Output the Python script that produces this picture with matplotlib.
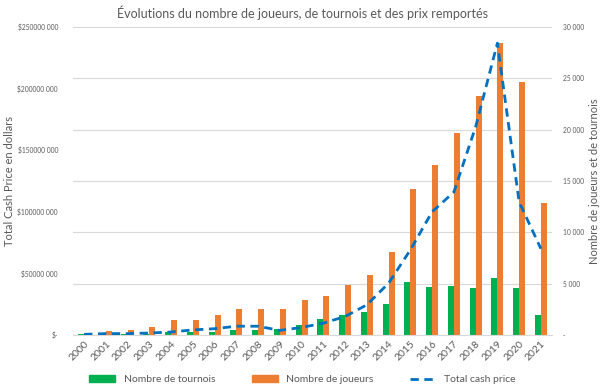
import matplotlib
matplotlib.use("Agg")
import matplotlib.pyplot as plt
from matplotlib.ticker import FuncFormatter
from matplotlib.lines import Line2D
from matplotlib.patches import Patch
import numpy as np

plt.rcParams["font.family"] = ["Lato", "DejaVu Sans"]

years = [str(y) for y in range(2000, 2022)]
tournois = [50, 60, 80, 100, 230, 230, 320, 450, 450, 580, 920,
            1530, 1920, 2240, 3050, 5200, 4700, 4770, 4600, 5500, 4580, 1980]
joueurs = [180, 350, 480, 810, 1400, 1460, 1940, 2500, 2500, 2540, 3400,
           3800, 4840, 5800, 8050, 14250, 16600, 19700, 23300, 28500, 24700, 12900]
cash = [0.4e6, 1.0e6, 1.0e6, 1.5e6, 2.3e6, 4.0e6, 5.0e6, 7.0e6, 7.0e6, 3.6e6, 6.0e6,
        9.5e6, 14.9e6, 24.4e6, 42e6, 69e6, 100e6, 116e6, 169e6, 237e6, 108e6, 70e6]

green = "#00B050"
orange = "#ED7D31"
blue = "#0070C0"
grey = "#595959"

fig = plt.figure(figsize=(6.05, 3.88), dpi=100)
ax = fig.add_axes([0.121, 0.137, 0.791, 0.793])
ax2 = ax.twinx()

x = np.arange(len(years))
w = 0.28
ax2.bar(x - w / 2, tournois, width=w, color=green, zorder=2)
ax2.bar(x + w / 2, joueurs, width=w, color=orange, zorder=2)
ax.plot(x, cash, color=blue, lw=2, ls=(0, (3, 2)), zorder=3)

ax.set_zorder(ax2.get_zorder() + 1)
ax.patch.set_visible(False)

ax.set_xlim(-0.5, len(years) - 0.5)
ax.set_ylim(0, 250e6)
ax2.set_ylim(0, 30000)
ax.set_yticks(np.arange(0, 250e6 + 1, 50e6))
ax2.set_yticks(np.arange(0, 30001, 5000))


def fmt_cash(v, pos):
    if v == 0:
        return "$-"
    s = f"{int(v):d}"
    return "$" + s[:-3] + " " + s[-3:]


def fmt_count(v, pos):
    if v == 0:
        return "-"
    return f"{int(v):,}".replace(",", " ")


ax.yaxis.set_major_formatter(FuncFormatter(fmt_cash))
ax2.yaxis.set_major_formatter(FuncFormatter(fmt_count))

ax.set_xticks(x)
ax.set_xticklabels(years, rotation=45, ha="right", rotation_mode="anchor",
                   fontsize=7.5, color=grey)
ax.tick_params(axis="x", length=0, pad=3)
ax.tick_params(axis="y", length=0, labelsize=4.8, labelcolor=grey, pad=11)
ax2.tick_params(axis="y", length=0, labelsize=4.8, labelcolor=grey, pad=8)

ax2.grid(axis="y", color="#D9D9D9", lw=0.8, zorder=0)
ax2.set_axisbelow(True)
for a in (ax, ax2):
    for s in a.spines.values():
        s.set_visible(False)
ax.spines["bottom"].set_visible(True)
ax.spines["bottom"].set_color("#D9D9D9")

ax.set_ylabel("Total Cash Price en dollars", fontsize=8, color=grey)
ax.yaxis.set_label_coords(-0.122, 0.5)
ax2.set_ylabel("Nombre de joueurs et de tournois", fontsize=8, color=grey)
ax2.yaxis.set_label_coords(1.078, 0.5)
fig.suptitle("Évolutions du nombre de joueurs, de tournois et des prix remportés",
             fontsize=9, color=grey, y=0.985)

handles = [Patch(color=green), Patch(color=orange),
           Line2D([0], [0], color=blue, lw=2, ls=(0, (3, 2)))]
labels = ["Nombre de tournois", "Nombre de joueurs", "Total cash price"]
fig.legend(handles, labels, loc="lower center", ncol=3, frameon=False,
           fontsize=7.5, bbox_to_anchor=(0.5, -0.015), handlelength=2.5,
           columnspacing=3.5, labelcolor=grey)

fig.savefig("out.png", dpi=100)
